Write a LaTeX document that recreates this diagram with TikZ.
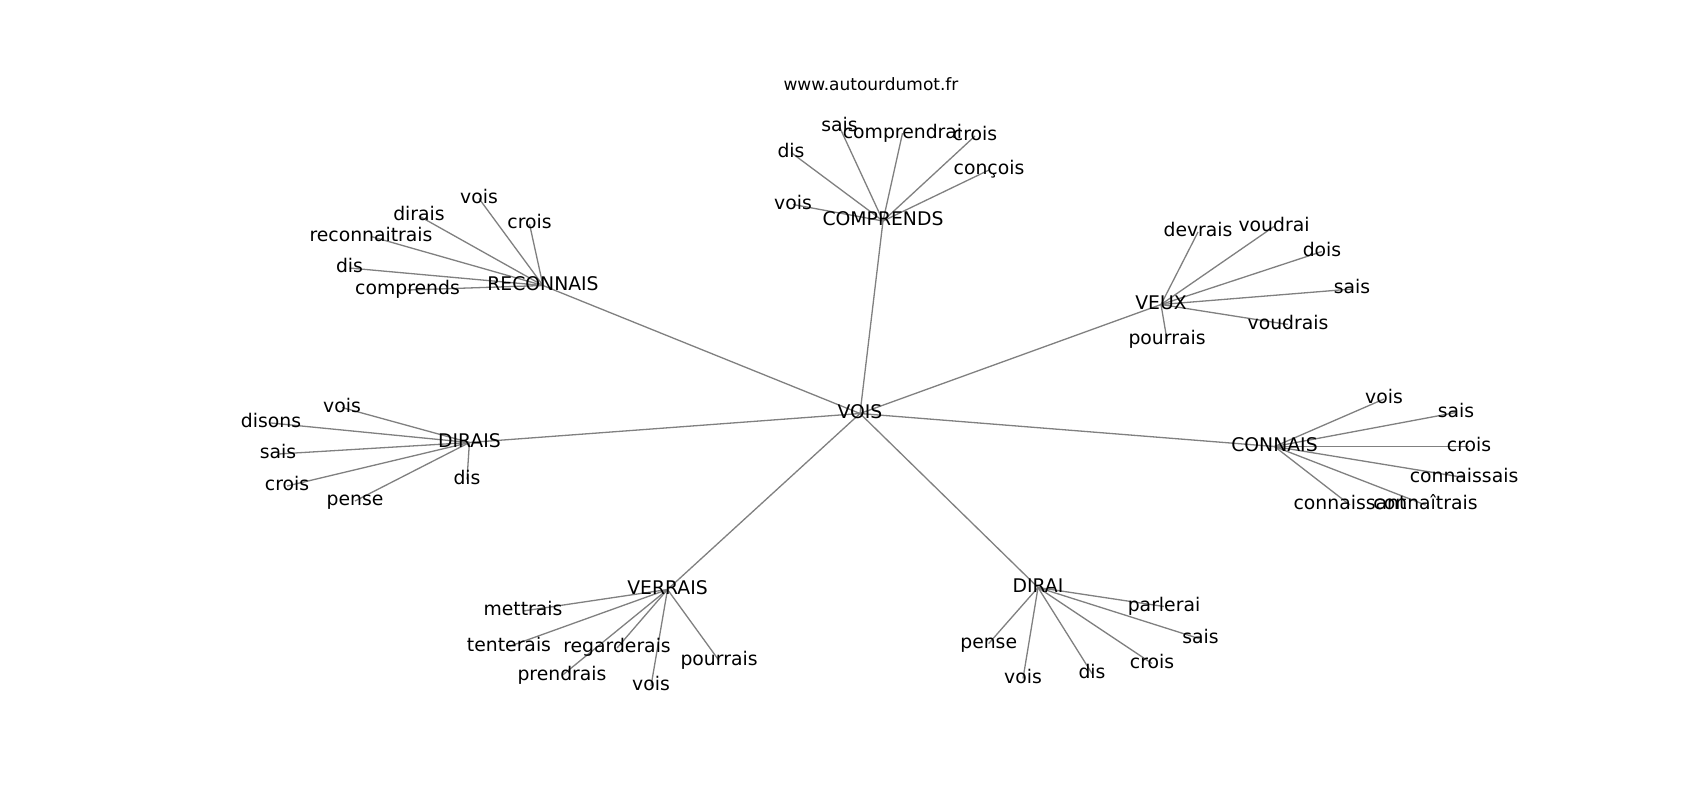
\documentclass[tikz,border=0pt]{standalone}
\usepackage{fontspec}
\setmainfont{DejaVu Sans}
\usetikzlibrary{backgrounds}
\newcommand{\lblfont}{\fontsize{9.4}{11}\selectfont}
\newcommand{\ttlfont}{\fontsize{8.5}{10}\selectfont}
\tikzset{
  lbl/.style={inner sep=0pt, text height=7.14pt, text depth=2.26pt, anchor=center, font=\lblfont, text=black},
  ttl/.style={inner sep=0pt, text height=6.46pt, text depth=2.04pt, anchor=center, font=\ttlfont, text=black},
  edge/.style={draw=gray, line width=0.65pt}
}
\begin{document}
\begin{tikzpicture}[x=0.5pt,y=-0.5pt]
\useasboundingbox (0,0) rectangle (1700,800);
\begin{scope}[yshift=-0.75pt]
\node[ttl] (title) at (871,84.3) {www.autourdumot.fr};

% hubs
\node[lbl] (VOIS) at (860,412) {VOIS};
\node[lbl] (COMP) at (883,219.5) {COMPRENDS};
\node[lbl] (RECO) at (543,284) {RECONNAIS};
\node[lbl] (VEUX) at (1161,303) {VEUX};
\node[lbl] (DIRS) at (469.4,441) {DIRAIS};
\node[lbl] (CONN) at (1274.5,445) {CONNAIS};
\node[lbl] (VERR) at (667.5,588) {VERRAIS};
\node[lbl] (DIRI) at (1038,586) {DIRAI};

% COMPRENDS leaves
\node[lbl] (c1) at (839.5,125.5) {sais};
\node[lbl] (c2) at (902.5,131.7) {comprendrai};
\node[lbl] (c3) at (975,134.5) {crois};
\node[lbl] (c4) at (989,168.5) {conçois};
\node[lbl] (c5) at (791,151) {dis};
\node[lbl] (c6) at (793,203) {vois};

% RECONNAIS leaves
\node[lbl] (r1) at (479,197) {vois};
\node[lbl] (r2) at (419,214.5) {dirais};
\node[lbl] (r3) at (529.5,222.5) {crois};
\node[lbl] (r4) at (371,235) {reconnaitrais};
\node[lbl] (r5) at (349.5,266.5) {dis};
\node[lbl] (r6) at (407.5,288.5) {comprends};

% VEUX leaves
\node[lbl] (v1) at (1198,230.5) {devrais};
\node[lbl] (v2) at (1274,225) {voudrai};
\node[lbl] (v3) at (1322,250) {dois};
\node[lbl] (v4) at (1352,287.5) {sais};
\node[lbl] (v5) at (1288,323) {voudrais};
\node[lbl] (v6) at (1167,338.5) {pourrais};

% DIRAIS leaves
\node[lbl] (d1) at (342,406) {vois};
\node[lbl] (d2) at (271,421.5) {disons};
\node[lbl] (d3) at (278,452.5) {sais};
\node[lbl] (d4) at (467,478) {dis};
\node[lbl] (d5) at (287,484.5) {crois};
\node[lbl] (d6) at (355,499.5) {pense};

% CONNAIS leaves
\node[lbl] (k1) at (1384,397.5) {vois};
\node[lbl] (k2) at (1456,411) {sais};
\node[lbl] (k3) at (1469,445) {crois};
\node[lbl] (k4) at (1464,476) {connaissais};
\node[lbl] (k5) at (1350,503.5) {connaissant};
\node[lbl] (k6) at (1425.5,503.5) {connaîtrais};

% VERRAIS leaves
\node[lbl] (e1) at (523,609.5) {mettrais};
\node[lbl] (e2) at (509,645) {tenterais};
\node[lbl] (e3) at (617,646.5) {regarderais};
\node[lbl] (e4) at (719,659) {pourrais};
\node[lbl] (e5) at (562,674) {prendrais};
\node[lbl] (e6) at (651,684.5) {vois};

% DIRAI leaves
\node[lbl] (a1) at (1164,605) {parlerai};
\node[lbl] (a2) at (1200.5,637.5) {sais};
\node[lbl] (a3) at (988.7,642) {pense};
\node[lbl] (a4) at (1152,662) {crois};
\node[lbl] (a5) at (1023,677) {vois};
\node[lbl] (a6) at (1092,672) {dis};
\end{scope}

\begin{scope}[on background layer]
  \fill[white] (0,0) rectangle (1700,800);
  \foreach \h in {COMP,RECO,VEUX,DIRS,CONN,VERR,DIRI}
    \draw[edge] (VOIS.center) -- (\h.center);
  \foreach \l in {c1,c2,c3,c4,c5,c6}
    \draw[edge] (COMP.center) -- (\l.center);
  \foreach \l in {r1,r2,r3,r4,r5,r6}
    \draw[edge] (RECO.center) -- (\l.center);
  \foreach \l in {v1,v2,v3,v4,v5,v6}
    \draw[edge] (VEUX.center) -- (\l.center);
  \foreach \l in {d1,d2,d3,d4,d5,d6}
    \draw[edge] (DIRS.center) -- (\l.center);
  \foreach \l in {k1,k2,k3,k4,k5,k6}
    \draw[edge] (CONN.center) -- (\l.center);
  \foreach \l in {e1,e2,e3,e4,e5,e6}
    \draw[edge] (VERR.center) -- (\l.center);
  \foreach \l in {a1,a2,a3,a4,a5,a6}
    \draw[edge] (DIRI.center) -- (\l.center);
\end{scope}
\end{tikzpicture}
\end{document}
